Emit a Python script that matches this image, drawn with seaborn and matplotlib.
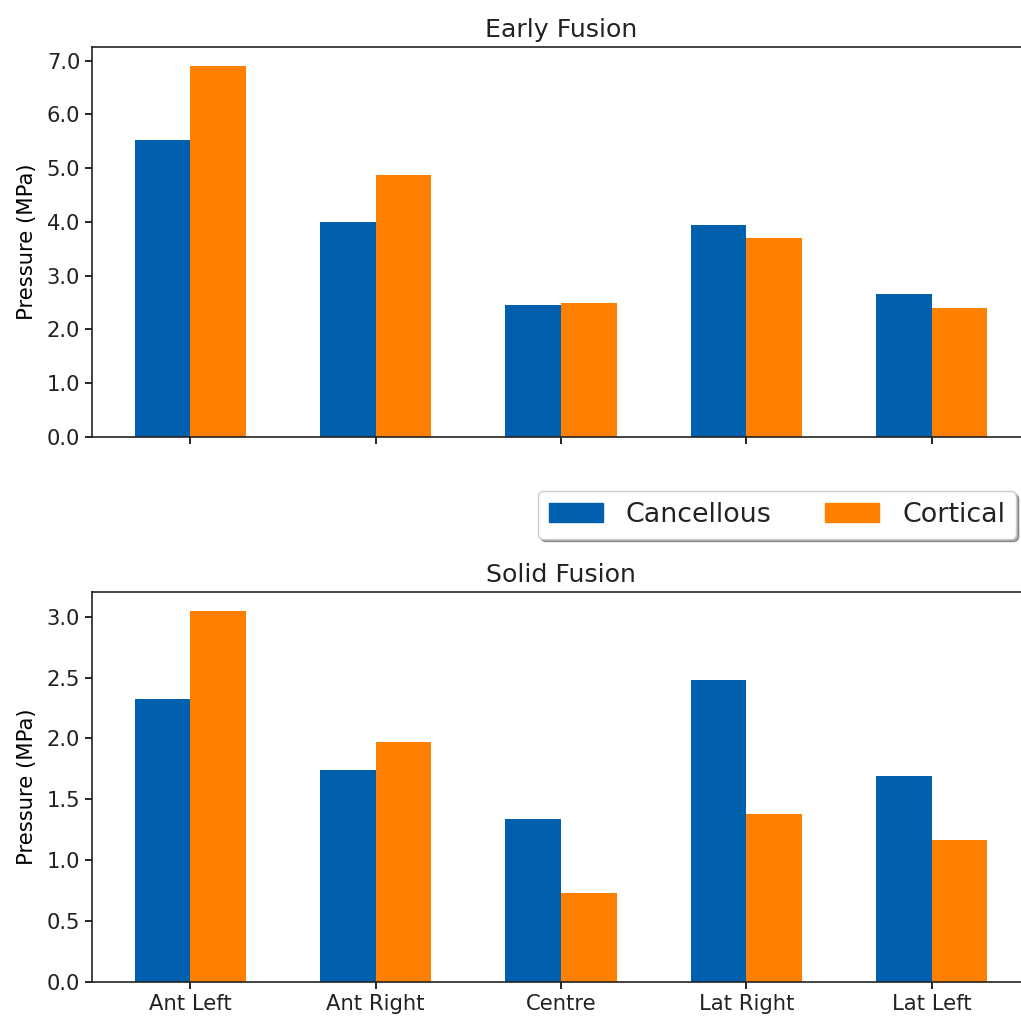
import matplotlib
matplotlib.use("Agg")
import matplotlib.pyplot as plt
import matplotlib.ticker as mticker
import seaborn as sns
import pandas as pd

locations = ["Ant Left", "Ant Right", "Centre", "Lat Right", "Lat Left"]
series_names = ["Cancellous", "Cortical"]
early_cancellous = [5.53, 4.00, 2.46, 3.95, 2.66]
early_cortical = [6.91, 4.88, 2.50, 3.71, 2.40]
solid_cancellous = [2.32, 1.74, 1.34, 2.48, 1.69]
solid_cortical = [3.05, 1.97, 0.73, 1.38, 1.17]
titles = ["Early Fusion", "Solid Fusion"]
colors = ["#0060AD", "#FF7F00"]

def make_df(canc, cort):
    rows = []
    for loc, v in zip(locations, canc):
        rows.append({"Location": loc, "Type": series_names[0], "Pressure": v})
    for loc, v in zip(locations, cort):
        rows.append({"Location": loc, "Type": series_names[1], "Pressure": v})
    return pd.DataFrame(rows)

plt.rcParams.update({
    "font.family": "DejaVu Sans",
    "axes.linewidth": 1.2,
    "xtick.major.width": 1.2,
    "ytick.major.width": 1.2,
    "xtick.major.size": 5,
    "ytick.major.size": 5,
    "text.color": "#222222",
    "xtick.labelcolor": "#222222",
    "ytick.labelcolor": "#222222",
})

fig = plt.figure(figsize=(10.21, 10.17), dpi=100)
ax_top = fig.add_axes([0.0901, 0.5703, 0.9187, 0.3835])
ax_bot = fig.add_axes([0.0901, 0.0344, 0.9187, 0.3835])

for ax, (canc, cort), title in zip(
        [ax_top, ax_bot],
        [(early_cancellous, early_cortical), (solid_cancellous, solid_cortical)],
        titles):
    df = make_df(canc, cort)
    sns.barplot(data=df, x="Location", y="Pressure", hue="Type",
                palette=colors, width=0.6, ax=ax, legend=False,
                errorbar=None, saturation=1.0, linewidth=0)
    ax.set_xlim(-0.53, 4.53)
    ymax = max(max(canc), max(cort))
    ax.set_ylim(0, ymax * 1.05)
    ax.set_xlabel("")
    ax.set_ylabel("Pressure (MPa)", fontsize=15.2, labelpad=7)
    ax.set_title(title, fontsize=18.2, pad=7)
    ax.yaxis.set_major_formatter(mticker.FormatStrFormatter("%.1f"))
    ax.tick_params(axis="both", labelsize=15.2)
    for s in ax.spines.values():
        s.set_visible(True)
        s.set_color("#222222")

ax_top.tick_params(axis="x", labelbottom=False)

handles = [plt.Rectangle((0, 0), 1, 1, color=c) for c in colors]
fig.legend(handles, series_names, ncol=2, loc="center right",
           bbox_to_anchor=(0.995, 0.4936), fontsize=19.4, shadow=True,
           frameon=True, fancybox=True, columnspacing=2.0, handlelength=2.0,
           handletextpad=0.85, borderpad=0.4, borderaxespad=0.0)

fig.savefig("out.png", dpi=100)
